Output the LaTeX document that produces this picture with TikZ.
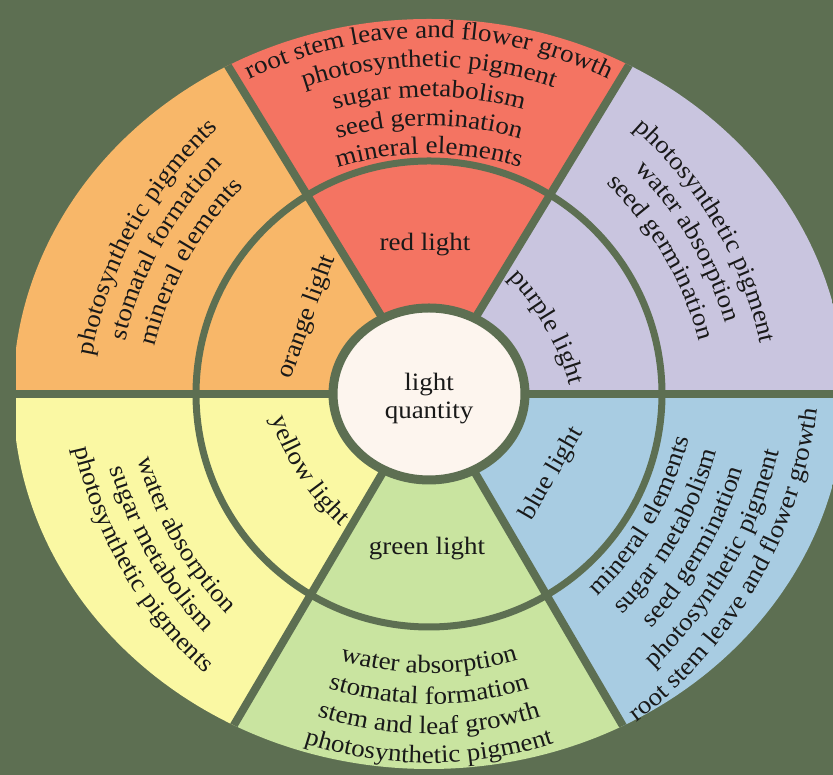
\documentclass[tikz,border=0pt]{standalone}
\usepackage{fontspec}
\setmainfont{Liberation Serif}
\newfontfamily\tfont[FakeStretch=1.08]{Liberation Serif}
\usetikzlibrary{decorations.text}
\definecolor{bgc}{RGB}{93,111,82}
\definecolor{cred}{RGB}{244,116,98}
\definecolor{corange}{RGB}{248,183,105}
\definecolor{cpurple}{RGB}{201,197,223}
\definecolor{cyellow}{RGB}{250,248,163}
\definecolor{cgreen}{RGB}{201,228,160}
\definecolor{cblue}{RGB}{168,204,226}
\definecolor{ccream}{RGB}{253,245,238}
\definecolor{txt}{RGB}{25,25,25}
\newcommand{\tf}{\tfont\fontsize{25}{30}\selectfont\color{txt}}
\newcommand{\tfn}{\tfont\fontsize{25}{28}\selectfont}
% #1 angle of mid point, #2 baseline radius at mid, #3 curvature radius, #4 1=clockwise (tops outward), -1=counter-clockwise (tops inward), #5 text
\newcommand{\arctext}[5]{%
  \pgfmathsetmacro{\atX}{429+(#2-#3)*cos(#1)}%
  \pgfmathsetmacro{\atY}{381+(#2-#3)*sin(#1)}%
  \pgfmathsetmacro{\atS}{#1+(#4)*70}%
  \pgfmathsetmacro{\atE}{#1-(#4)*70}%
  \path[decorate,decoration={text along path,text={|\tf|#5},text align=center}]
    (\atX pt,\atY pt) ++(\atS:#3pt) arc[start angle=\atS,end angle=\atE,radius=#3pt];%
}
\tikzset{lbl/.style={font=\tfn,text=txt,inner sep=0pt}}
\begin{document}
\begin{tikzpicture}[x=1pt,y=1pt]
\useasboundingbox (0,0) rectangle (833,775);
\fill[bgc] (0,0) rectangle (833,775);
\coordinate (O) at (429,381);
\begin{scope}
  \clip (16,0) rectangle (833,775);
  \clip (O) ellipse [x radius=416pt, y radius=375pt];
  \fill[cpurple] (O) -- ([shift={(0:1200pt)}]O) -- ([shift={(58.7:1200pt)}]O) -- cycle;
  \fill[cred]    (O) -- ([shift={(58.7:1200pt)}]O) -- ([shift={(121.5:1200pt)}]O) -- cycle;
  \fill[corange] (O) -- ([shift={(121.5:1200pt)}]O) -- ([shift={(180:1200pt)}]O) -- cycle;
  \fill[cyellow] (O) -- ([shift={(180:1200pt)}]O) -- ([shift={(239.5:1200pt)}]O) -- cycle;
  \fill[cgreen]  (O) -- ([shift={(239.5:1200pt)}]O) -- ([shift={(300.3:1200pt)}]O) -- cycle;
  \fill[cblue]   (O) -- ([shift={(300.3:1200pt)}]O) -- ([shift={(360:1200pt)}]O) -- cycle;
  \foreach \a in {0,58.7,121.5,180,239.5,300.3}
    \draw[bgc,line width=8pt] (O) -- ([shift={(\a:1200pt)}]O);
\end{scope}
\draw[bgc,line width=7pt] (O) circle [radius=233pt];
\filldraw[fill=ccream,draw=bgc,line width=9pt] (O) ellipse [x radius=96pt, y radius=86pt];
\node[lbl,align=center] (lq) at (429,376) {light\\quantity};
% inner labels
\node[lbl] (redl) at (425,530) {red light};
\node[lbl,rotate=70] (orangel) at (307,458) {orange light};
\node[lbl,rotate=60] (bluel) at (552,301) {blue light};
\node[lbl] (greenl) at (427,226) {green light};
\arctext{29.5}{134}{250}{1}{purple light}
\arctext{212.5}{154}{260}{-1}{yellow light}
% red
\arctext{90}{356}{408}{1}{root stem leave and flower growth}
\arctext{90}{327}{390}{1}{photosynthetic pigment}
\arctext{90}{297}{362}{1}{sugar metabolism}
\arctext{90}{268}{335}{1}{seed germination}
\arctext{90}{240}{310}{1}{mineral elements}
% orange
\arctext{151}{334}{410}{1}{photosynthetic pigments}
\arctext{151}{305}{380}{1}{stomatal formation}
\arctext{151}{275}{350}{1}{mineral elements}
% purple
\arctext{30.5}{331}{405}{1}{photosynthetic pigment}
\arctext{30.5}{302}{375}{1}{water absorption}
\arctext{30.5}{272}{345}{1}{seed germination}
% yellow
\arctext{210}{296}{370}{-1}{water absorption}
\arctext{210}{325}{400}{-1}{sugar metabolism}
\arctext{210}{354}{430}{-1}{photosynthetic pigments}
% blue
\arctext{330}{260}{335}{-1}{mineral elements}
\arctext{330}{290}{370}{-1}{sugar metabolism}
\arctext{330}{320}{405}{-1}{seed germination}
\arctext{330}{350}{440}{-1}{photosynthetic pigment}
\arctext{330}{380}{470}{-1}{root stem leave and flower growth}
% green
\arctext{270}{279}{310}{-1}{water absorption}
\arctext{270}{310}{340}{-1}{stomatal formation}
\arctext{270}{340}{370}{-1}{stem and leaf growth}
\arctext{270}{369}{400}{-1}{photosynthetic pigment}
\end{tikzpicture}
\end{document}
